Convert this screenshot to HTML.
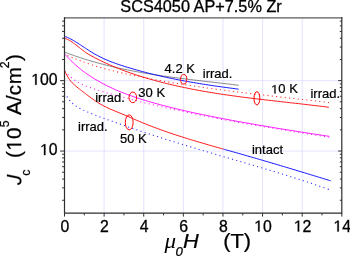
<!DOCTYPE html>
<html><head><meta charset="utf-8"><title>SCS4050 AP+7.5% Zr</title>
<style>html,body{margin:0;padding:0;background:#fff;overflow:hidden}svg{display:block;will-change:transform}text{font-family:"Liberation Sans",sans-serif;fill:#000}</style>
</head><body>
<svg width="350" height="256" viewBox="0 0 350 256">
<rect x="0" y="0" width="350" height="256" fill="#fff"/>
<g stroke="#dcdcff" stroke-width="0.8" fill="none">
<line x1="104.11" y1="17.95" x2="104.11" y2="213.10"/>
<line x1="143.73" y1="17.95" x2="143.73" y2="213.10"/>
<line x1="183.34" y1="17.95" x2="183.34" y2="213.10"/>
<line x1="222.96" y1="17.95" x2="222.96" y2="213.10"/>
<line x1="262.57" y1="17.95" x2="262.57" y2="213.10"/>
<line x1="302.19" y1="17.95" x2="302.19" y2="213.10"/>
<line x1="64.50" y1="80.65" x2="341.80" y2="80.65"/>
<line x1="64.50" y1="151.05" x2="341.80" y2="151.05"/>
</g>
<g fill="none" stroke-linejoin="round" stroke-opacity="0.92">
<path d="M64.90 52.27 C65.10 52.34 65.70 52.57 66.10 52.72 C66.50 52.87 66.90 53.02 67.30 53.17 C67.70 53.31 68.10 53.46 68.50 53.61 C68.90 53.75 69.30 53.90 69.70 54.04 C70.10 54.19 70.50 54.33 70.90 54.47 C71.30 54.62 71.70 54.76 72.10 54.90 C72.50 55.04 72.90 55.18 73.30 55.32 C73.70 55.46 74.10 55.60 74.50 55.74 C74.90 55.88 75.30 56.01 75.70 56.15 C76.10 56.29 76.50 56.42 76.90 56.56 C77.30 56.69 77.70 56.83 78.10 56.96 C78.50 57.09 78.90 57.23 79.30 57.36 C79.70 57.49 80.10 57.62 80.50 57.75 C80.90 57.88 81.30 58.01 81.70 58.14 C82.10 58.27 82.50 58.40 82.90 58.52 C83.30 58.65 83.70 58.78 84.10 58.90 C84.50 59.03 84.60 59.06 85.30 59.28 C86.00 59.49 87.30 59.89 88.30 60.19 C89.30 60.49 90.30 60.79 91.30 61.08 C92.30 61.38 93.30 61.66 94.30 61.95 C95.30 62.23 96.30 62.51 97.30 62.79 C98.30 63.06 99.30 63.33 100.30 63.60 C101.30 63.86 102.30 64.13 103.30 64.39 C104.30 64.65 105.30 64.90 106.30 65.15 C107.30 65.40 108.30 65.65 109.30 65.89 C110.30 66.14 111.30 66.37 112.30 66.61 C113.30 66.85 114.30 67.08 115.30 67.31 C116.30 67.54 117.30 67.76 118.30 67.98 C119.30 68.21 120.30 68.42 121.30 68.64 C122.30 68.85 123.30 69.07 124.30 69.27 C125.30 69.48 126.30 69.69 127.30 69.89 C128.30 70.09 129.30 70.29 130.30 70.49 C131.30 70.68 132.30 70.88 133.30 71.07 C134.30 71.26 135.30 71.45 136.30 71.63 C137.30 71.82 138.30 72.00 139.30 72.18 C140.30 72.36 141.30 72.53 142.30 72.71 C143.30 72.88 144.30 73.05 145.30 73.22 C146.30 73.39 147.30 73.56 148.30 73.72 C149.30 73.89 150.30 74.05 151.30 74.21 C152.30 74.37 153.30 74.53 154.30 74.68 C155.30 74.84 156.30 74.99 157.30 75.14 C158.30 75.29 159.30 75.44 160.30 75.59 C161.30 75.74 162.30 75.89 163.30 76.03 C164.30 76.17 165.30 76.32 166.30 76.46 C167.30 76.60 168.30 76.74 169.30 76.87 C170.30 77.01 171.30 77.15 172.30 77.28 C173.30 77.42 174.30 77.55 175.30 77.68 C176.30 77.81 177.30 77.94 178.30 78.07 C179.30 78.20 180.30 78.33 181.30 78.45 C182.30 78.58 183.30 78.71 184.30 78.83 C185.30 78.96 186.30 79.08 187.30 79.20 C188.30 79.33 189.30 79.45 190.30 79.57 C191.30 79.69 192.30 79.81 193.30 79.93 C194.30 80.05 195.30 80.17 196.30 80.29 C197.30 80.41 198.30 80.52 199.30 80.64 C200.30 80.76 201.30 80.88 202.30 80.99 C203.30 81.11 204.30 81.22 205.30 81.34 C206.30 81.46 207.30 81.57 208.30 81.69 C209.30 81.80 210.30 81.92 211.30 82.04 C212.30 82.15 213.30 82.27 214.30 82.38 C215.30 82.50 216.30 82.61 217.30 82.73 C218.30 82.85 219.30 82.96 220.30 83.08 C221.30 83.20 222.30 83.31 223.30 83.43 C224.30 83.55 225.30 83.67 226.30 83.78 C227.30 83.90 228.30 84.02 229.30 84.14 C230.30 84.26 231.30 84.38 232.30 84.50 C233.30 84.62 234.30 84.74 235.30 84.87 C236.30 84.99 237.75 85.17 238.30 85.24 C238.85 85.31 238.55 85.27 238.60 85.27" stroke="#484848" stroke-width="0.7"/>
<path d="M329.00 102.58 C328.88 102.57 328.92 102.57 328.30 102.50 C327.68 102.43 326.30 102.26 325.30 102.15 C324.30 102.03 323.30 101.91 322.30 101.79 C321.30 101.68 320.30 101.56 319.30 101.45 C318.30 101.33 317.30 101.21 316.30 101.10 C315.30 100.98 314.30 100.87 313.30 100.75 C312.30 100.64 311.30 100.52 310.30 100.41 C309.30 100.29 308.30 100.18 307.30 100.07 C306.30 99.95 305.30 99.84 304.30 99.72 C303.30 99.61 302.30 99.50 301.30 99.38 C300.30 99.27 299.30 99.15 298.30 99.04 C297.30 98.93 296.30 98.81 295.30 98.70 C294.30 98.59 293.30 98.47 292.30 98.36 C291.30 98.25 290.30 98.13 289.30 98.02 C288.30 97.91 287.30 97.79 286.30 97.68 C285.30 97.56 284.30 97.45 283.30 97.34 C282.30 97.22 281.30 97.11 280.30 96.99 C279.30 96.88 278.30 96.77 277.30 96.65 C276.30 96.54 275.30 96.42 274.30 96.31 C273.30 96.19 272.30 96.08 271.30 95.96 C270.30 95.85 269.30 95.73 268.30 95.62 C267.30 95.50 266.30 95.39 265.30 95.27 C264.30 95.15 263.30 95.04 262.30 94.92 C261.30 94.80 260.30 94.69 259.30 94.57 C258.30 94.45 257.30 94.33 256.30 94.21 C255.30 94.10 254.30 93.98 253.30 93.86 C252.30 93.74 251.30 93.62 250.30 93.50 C249.30 93.38 248.30 93.26 247.30 93.14 C246.30 93.02 245.30 92.89 244.30 92.77 C243.30 92.65 242.30 92.53 241.30 92.41 C240.30 92.28 239.30 92.16 238.30 92.03 C237.30 91.91 236.30 91.79 235.30 91.66 C234.30 91.53 233.30 91.41 232.30 91.28 C231.30 91.16 230.30 91.03 229.30 90.90 C228.30 90.77 227.30 90.64 226.30 90.51 C225.30 90.38 224.30 90.25 223.30 90.12 C222.30 89.99 221.30 89.86 220.30 89.73 C219.30 89.60 218.30 89.46 217.30 89.33 C216.30 89.19 215.30 89.06 214.30 88.92 C213.30 88.79 212.30 88.65 211.30 88.51 C210.30 88.38 209.30 88.24 208.30 88.10 C207.30 87.96 206.30 87.82 205.30 87.68 C204.30 87.54 203.30 87.40 202.30 87.25 C201.30 87.11 200.30 86.97 199.30 86.82 C198.30 86.68 197.30 86.53 196.30 86.39 C195.30 86.24 194.30 86.09 193.30 85.94 C192.30 85.79 191.30 85.64 190.30 85.49 C189.30 85.34 188.30 85.19 187.30 85.03 C186.30 84.88 185.30 84.73 184.30 84.57 C183.30 84.41 182.30 84.26 181.30 84.10 C180.30 83.94 179.30 83.78 178.30 83.62 C177.30 83.46 176.30 83.30 175.30 83.14 C174.30 82.97 173.30 82.81 172.30 82.64 C171.30 82.48 170.30 82.31 169.30 82.14 C168.30 81.98 167.30 81.81 166.30 81.64 C165.30 81.46 164.30 81.29 163.30 81.12 C162.30 80.95 161.30 80.77 160.30 80.59 C159.30 80.42 158.30 80.24 157.30 80.06 C156.30 79.88 155.30 79.70 154.30 79.52 C153.30 79.34 152.30 79.15 151.30 78.97 C150.30 78.78 149.30 78.60 148.30 78.41 C147.30 78.22 146.30 78.03 145.30 77.84 C144.30 77.65 143.30 77.45 142.30 77.26 C141.30 77.06 140.30 76.87 139.30 76.67 C138.30 76.47 137.30 76.27 136.30 76.07 C135.30 75.87 134.30 75.67 133.30 75.46 C132.30 75.25 131.30 75.05 130.30 74.84 C129.30 74.62 128.30 74.41 127.30 74.20 C126.30 73.98 125.30 73.76 124.30 73.54 C123.30 73.32 122.30 73.09 121.30 72.86 C120.30 72.63 119.30 72.40 118.30 72.16 C117.30 71.93 116.30 71.69 115.30 71.44 C114.30 71.20 113.30 70.95 112.30 70.70 C111.30 70.45 110.30 70.19 109.30 69.93 C108.30 69.67 107.30 69.40 106.30 69.13 C105.30 68.86 104.30 68.58 103.30 68.30 C102.30 68.02 101.30 67.73 100.30 67.44 C99.30 67.15 98.30 66.85 97.30 66.55 C96.30 66.25 95.30 65.94 94.30 65.62 C93.30 65.31 92.30 64.98 91.30 64.66 C90.30 64.33 89.30 63.99 88.30 63.65 C87.30 63.31 86.00 62.85 85.30 62.61 C84.60 62.36 84.50 62.32 84.10 62.18 C83.70 62.04 83.30 61.89 82.90 61.74 C82.50 61.60 82.10 61.45 81.70 61.30 C81.30 61.15 80.90 61.00 80.50 60.85 C80.10 60.70 79.70 60.55 79.30 60.39 C78.90 60.24 78.50 60.09 78.10 59.93 C77.70 59.77 77.30 59.62 76.90 59.46 C76.50 59.30 76.10 59.14 75.70 58.98 C75.30 58.82 74.90 58.65 74.50 58.49 C74.10 58.33 73.70 58.16 73.30 58.00 C72.90 57.83 72.50 57.66 72.10 57.49 C71.70 57.32 71.30 57.15 70.90 56.98 C70.50 56.81 70.10 56.64 69.70 56.46 C69.30 56.29 68.90 56.11 68.50 55.94 C68.10 55.76 67.70 55.58 67.30 55.40 C66.90 55.22 66.50 55.04 66.10 54.86 C65.70 54.68 65.10 54.40 64.90 54.31" stroke="#ff0000" stroke-width="1.05" stroke-dasharray="1.1 3.25" stroke-opacity="0.85"/>
<path d="M329.30 137.28 C329.13 137.25 328.97 137.23 328.30 137.12 C327.63 137.02 326.30 136.81 325.30 136.66 C324.30 136.51 323.30 136.35 322.30 136.20 C321.30 136.04 320.30 135.89 319.30 135.73 C318.30 135.58 317.30 135.42 316.30 135.27 C315.30 135.11 314.30 134.95 313.30 134.80 C312.30 134.64 311.30 134.49 310.30 134.33 C309.30 134.17 308.30 134.02 307.30 133.86 C306.30 133.70 305.30 133.55 304.30 133.39 C303.30 133.23 302.30 133.07 301.30 132.92 C300.30 132.76 299.30 132.60 298.30 132.44 C297.30 132.28 296.30 132.12 295.30 131.96 C294.30 131.81 293.30 131.65 292.30 131.49 C291.30 131.33 290.30 131.17 289.30 131.01 C288.30 130.84 287.30 130.68 286.30 130.52 C285.30 130.36 284.30 130.20 283.30 130.04 C282.30 129.87 281.30 129.71 280.30 129.55 C279.30 129.39 278.30 129.22 277.30 129.06 C276.30 128.89 275.30 128.73 274.30 128.56 C273.30 128.40 272.30 128.23 271.30 128.07 C270.30 127.90 269.30 127.74 268.30 127.57 C267.30 127.40 266.30 127.23 265.30 127.07 C264.30 126.90 263.30 126.73 262.30 126.56 C261.30 126.39 260.30 126.22 259.30 126.05 C258.30 125.88 257.30 125.71 256.30 125.54 C255.30 125.37 254.30 125.19 253.30 125.02 C252.30 124.85 251.30 124.67 250.30 124.50 C249.30 124.33 248.30 124.15 247.30 123.98 C246.30 123.80 245.30 123.62 244.30 123.45 C243.30 123.27 242.30 123.09 241.30 122.91 C240.30 122.74 239.30 122.56 238.30 122.38 C237.30 122.20 236.30 122.02 235.30 121.84 C234.30 121.66 233.30 121.47 232.30 121.29 C231.30 121.11 230.30 120.92 229.30 120.74 C228.30 120.56 227.30 120.37 226.30 120.19 C225.30 120.00 224.30 119.81 223.30 119.62 C222.30 119.44 221.30 119.25 220.30 119.06 C219.30 118.87 218.30 118.68 217.30 118.49 C216.30 118.30 215.30 118.11 214.30 117.91 C213.30 117.72 212.30 117.53 211.30 117.33 C210.30 117.14 209.30 116.94 208.30 116.75 C207.30 116.55 206.30 116.35 205.30 116.15 C204.30 115.95 203.30 115.76 202.30 115.55 C201.30 115.35 200.30 115.15 199.30 114.95 C198.30 114.75 197.30 114.54 196.30 114.34 C195.30 114.14 194.30 113.93 193.30 113.72 C192.30 113.52 191.30 113.31 190.30 113.10 C189.30 112.89 188.30 112.68 187.30 112.47 C186.30 112.26 185.30 112.05 184.30 111.84 C183.30 111.62 182.30 111.41 181.30 111.19 C180.30 110.98 179.30 110.76 178.30 110.54 C177.30 110.33 176.30 110.11 175.30 109.89 C174.30 109.67 173.30 109.45 172.30 109.23 C171.30 109.00 170.30 108.78 169.30 108.56 C168.30 108.33 167.30 108.10 166.30 107.88 C165.30 107.65 164.30 107.42 163.30 107.19 C162.30 106.96 161.30 106.73 160.30 106.50 C159.30 106.27 158.30 106.03 157.30 105.80 C156.30 105.56 155.30 105.33 154.30 105.09 C153.30 104.85 152.30 104.62 151.30 104.38 C150.30 104.14 149.30 103.89 148.30 103.65 C147.30 103.41 146.30 103.16 145.30 102.92 C144.30 102.67 143.30 102.43 142.30 102.18 C141.30 101.93 140.30 101.68 139.30 101.43 C138.30 101.18 137.30 100.93 136.30 100.67 C135.30 100.42 134.30 100.16 133.30 99.90 C132.30 99.65 131.30 99.39 130.30 99.13 C129.30 98.87 128.30 98.61 127.30 98.35 C126.30 98.08 125.30 97.82 124.30 97.55 C123.30 97.29 122.30 97.02 121.30 96.75 C120.30 96.48 119.30 96.21 118.30 95.94 C117.30 95.67 116.30 95.39 115.30 95.12 C114.30 94.84 113.30 94.56 112.30 94.28 C111.30 94.00 110.30 93.72 109.30 93.43 C108.30 93.15 107.30 92.86 106.30 92.57 C105.30 92.28 104.30 91.99 103.30 91.69 C102.30 91.40 101.30 91.10 100.30 90.79 C99.30 90.49 98.30 90.19 97.30 89.88 C96.30 89.57 95.30 89.25 94.30 88.94 C93.30 88.62 92.30 88.30 91.30 87.97 C90.30 87.64 89.30 87.31 88.30 86.95 C87.30 86.59 86.00 86.09 85.30 85.82 C84.60 85.55 84.50 85.49 84.10 85.32 C83.70 85.15 83.30 84.98 82.90 84.80 C82.50 84.62 82.10 84.44 81.70 84.25 C81.30 84.05 80.90 83.86 80.50 83.65 C80.10 83.45 79.70 83.24 79.30 83.02 C78.90 82.81 78.50 82.58 78.10 82.35 C77.70 82.12 77.30 81.88 76.90 81.63 C76.50 81.38 76.10 81.13 75.70 80.86 C75.30 80.60 74.90 80.33 74.50 80.04 C74.10 79.76 73.70 79.47 73.30 79.17 C72.90 78.87 72.50 78.55 72.10 78.23 C71.70 77.91 71.30 77.58 70.90 77.23 C70.50 76.89 70.10 76.54 69.70 76.17 C69.30 75.80 68.90 75.43 68.50 75.03 C68.10 74.64 67.70 74.24 67.30 73.83 C66.90 73.41 66.50 72.99 66.10 72.55 C65.70 72.10 65.10 71.41 64.90 71.18" stroke="#ff00ff" stroke-width="1.05" stroke-dasharray="1.1 3.25" stroke-opacity="0.85"/>
<path d="M328.50 189.25 C328.47 189.24 328.83 189.37 328.30 189.18 C327.77 188.99 326.30 188.48 325.30 188.13 C324.30 187.78 323.30 187.43 322.30 187.09 C321.30 186.74 320.30 186.40 319.30 186.06 C318.30 185.72 317.30 185.38 316.30 185.04 C315.30 184.70 314.30 184.36 313.30 184.03 C312.30 183.69 311.30 183.36 310.30 183.02 C309.30 182.69 308.30 182.36 307.30 182.03 C306.30 181.70 305.30 181.37 304.30 181.05 C303.30 180.72 302.30 180.39 301.30 180.07 C300.30 179.75 299.30 179.42 298.30 179.10 C297.30 178.78 296.30 178.46 295.30 178.14 C294.30 177.82 293.30 177.50 292.30 177.19 C291.30 176.87 290.30 176.56 289.30 176.24 C288.30 175.93 287.30 175.61 286.30 175.30 C285.30 174.99 284.30 174.68 283.30 174.37 C282.30 174.06 281.30 173.75 280.30 173.44 C279.30 173.13 278.30 172.83 277.30 172.52 C276.30 172.21 275.30 171.91 274.30 171.60 C273.30 171.30 272.30 171.00 271.30 170.69 C270.30 170.39 269.30 170.09 268.30 169.79 C267.30 169.49 266.30 169.19 265.30 168.89 C264.30 168.59 263.30 168.29 262.30 167.99 C261.30 167.69 260.30 167.39 259.30 167.09 C258.30 166.80 257.30 166.50 256.30 166.20 C255.30 165.91 254.30 165.61 253.30 165.32 C252.30 165.02 251.30 164.73 250.30 164.43 C249.30 164.14 248.30 163.84 247.30 163.55 C246.30 163.26 245.30 162.96 244.30 162.67 C243.30 162.38 242.30 162.08 241.30 161.79 C240.30 161.50 239.30 161.21 238.30 160.91 C237.30 160.62 236.30 160.33 235.30 160.04 C234.30 159.75 233.30 159.46 232.30 159.16 C231.30 158.87 230.30 158.58 229.30 158.29 C228.30 158.00 227.30 157.71 226.30 157.42 C225.30 157.13 224.30 156.83 223.30 156.54 C222.30 156.25 221.30 155.96 220.30 155.67 C219.30 155.38 218.30 155.08 217.30 154.79 C216.30 154.50 215.30 154.21 214.30 153.92 C213.30 153.62 212.30 153.33 211.30 153.04 C210.30 152.75 209.30 152.45 208.30 152.16 C207.30 151.87 206.30 151.57 205.30 151.28 C204.30 150.98 203.30 150.69 202.30 150.39 C201.30 150.10 200.30 149.80 199.30 149.51 C198.30 149.21 197.30 148.91 196.30 148.62 C195.30 148.32 194.30 148.02 193.30 147.72 C192.30 147.43 191.30 147.13 190.30 146.83 C189.30 146.53 188.30 146.23 187.30 145.93 C186.30 145.62 185.30 145.32 184.30 145.02 C183.30 144.72 182.30 144.41 181.30 144.11 C180.30 143.81 179.30 143.50 178.30 143.20 C177.30 142.89 176.30 142.58 175.30 142.28 C174.30 141.97 173.30 141.66 172.30 141.35 C171.30 141.04 170.30 140.73 169.30 140.42 C168.30 140.11 167.30 139.79 166.30 139.48 C165.30 139.17 164.30 138.85 163.30 138.53 C162.30 138.22 161.30 137.90 160.30 137.58 C159.30 137.26 158.30 136.94 157.30 136.62 C156.30 136.30 155.30 135.98 154.30 135.66 C153.30 135.33 152.30 135.01 151.30 134.68 C150.30 134.36 149.30 134.03 148.30 133.70 C147.30 133.37 146.30 133.04 145.30 132.71 C144.30 132.38 143.30 132.05 142.30 131.72 C141.30 131.38 140.30 131.05 139.30 130.71 C138.30 130.38 137.30 130.04 136.30 129.70 C135.30 129.37 134.30 129.03 133.30 128.69 C132.30 128.35 131.30 128.00 130.30 127.66 C129.30 127.32 128.30 126.97 127.30 126.63 C126.30 126.28 125.30 125.94 124.30 125.59 C123.30 125.24 122.30 124.89 121.30 124.54 C120.30 124.19 119.30 123.84 118.30 123.49 C117.30 123.14 116.30 122.79 115.30 122.43 C114.30 122.08 113.30 121.72 112.30 121.36 C111.30 121.01 110.30 120.65 109.30 120.29 C108.30 119.93 107.30 119.57 106.30 119.21 C105.30 118.85 104.30 118.49 103.30 118.12 C102.30 117.76 101.30 117.40 100.30 117.03 C99.30 116.66 98.30 116.29 97.30 115.92 C96.30 115.54 95.30 115.16 94.30 114.78 C93.30 114.39 92.30 114.00 91.30 113.59 C90.30 113.18 89.30 112.77 88.30 112.34 C87.30 111.92 86.00 111.34 85.30 111.02 C84.60 110.71 84.50 110.66 84.10 110.47 C83.70 110.29 83.30 110.10 82.90 109.91 C82.50 109.72 82.10 109.52 81.70 109.32 C81.30 109.13 80.90 108.93 80.50 108.72 C80.10 108.52 79.70 108.31 79.30 108.10 C78.90 107.88 78.50 107.66 78.10 107.43 C77.70 107.20 77.30 106.96 76.90 106.71 C76.50 106.46 76.10 106.20 75.70 105.92 C75.30 105.64 74.90 105.35 74.50 105.04 C74.10 104.73 73.70 104.41 73.30 104.06 C72.90 103.72 72.50 103.35 72.10 102.97 C71.70 102.58 71.30 102.18 70.90 101.75 C70.50 101.31 70.10 100.86 69.70 100.38 C69.30 99.90 68.90 99.39 68.50 98.85 C68.10 98.31 67.70 97.75 67.30 97.15 C66.90 96.55 66.50 95.92 66.10 95.26 C65.70 94.59 65.10 93.51 64.90 93.16" stroke="#0000ff" stroke-width="1.05" stroke-dasharray="1.1 3.25" stroke-opacity="0.85"/>
<path d="M64.90 54.18 C65.10 54.41 65.70 55.09 66.10 55.53 C66.50 55.97 66.90 56.41 67.30 56.84 C67.70 57.27 68.10 57.69 68.50 58.11 C68.90 58.53 69.30 58.94 69.70 59.35 C70.10 59.76 70.50 60.16 70.90 60.56 C71.30 60.95 71.70 61.34 72.10 61.73 C72.50 62.11 72.90 62.50 73.30 62.87 C73.70 63.25 74.10 63.62 74.50 63.98 C74.90 64.35 75.30 64.71 75.70 65.06 C76.10 65.42 76.50 65.77 76.90 66.12 C77.30 66.46 77.70 66.80 78.10 67.14 C78.50 67.48 78.90 67.81 79.30 68.14 C79.70 68.47 80.10 68.79 80.50 69.11 C80.90 69.43 81.30 69.75 81.70 70.06 C82.10 70.37 82.50 70.68 82.90 70.98 C83.30 71.28 83.70 71.58 84.10 71.88 C84.50 72.17 84.60 72.26 85.30 72.75 C86.00 73.25 87.30 74.17 88.30 74.85 C89.30 75.53 90.30 76.19 91.30 76.83 C92.30 77.48 93.30 78.10 94.30 78.71 C95.30 79.32 96.30 79.91 97.30 80.49 C98.30 81.07 99.30 81.64 100.30 82.19 C101.30 82.75 102.30 83.29 103.30 83.82 C104.30 84.35 105.30 84.86 106.30 85.37 C107.30 85.88 108.30 86.37 109.30 86.85 C110.30 87.34 111.30 87.81 112.30 88.27 C113.30 88.73 114.30 89.18 115.30 89.62 C116.30 90.06 117.30 90.49 118.30 90.92 C119.30 91.34 120.30 91.75 121.30 92.15 C122.30 92.56 123.30 92.95 124.30 93.34 C125.30 93.73 126.30 94.11 127.30 94.48 C128.30 94.85 129.30 95.21 130.30 95.57 C131.30 95.93 132.30 96.27 133.30 96.62 C134.30 96.96 135.30 97.30 136.30 97.63 C137.30 97.96 138.30 98.28 139.30 98.60 C140.30 98.92 141.30 99.24 142.30 99.55 C143.30 99.86 144.30 100.16 145.30 100.46 C146.30 100.77 147.30 101.06 148.30 101.36 C149.30 101.65 150.30 101.94 151.30 102.23 C152.30 102.51 153.30 102.80 154.30 103.08 C155.30 103.36 156.30 103.63 157.30 103.91 C158.30 104.18 159.30 104.45 160.30 104.72 C161.30 104.99 162.30 105.26 163.30 105.52 C164.30 105.78 165.30 106.04 166.30 106.30 C167.30 106.56 168.30 106.81 169.30 107.06 C170.30 107.32 171.30 107.57 172.30 107.81 C173.30 108.06 174.30 108.30 175.30 108.55 C176.30 108.79 177.30 109.03 178.30 109.26 C179.30 109.50 180.30 109.74 181.30 109.97 C182.30 110.20 183.30 110.43 184.30 110.66 C185.30 110.89 186.30 111.12 187.30 111.34 C188.30 111.57 189.30 111.79 190.30 112.01 C191.30 112.23 192.30 112.45 193.30 112.66 C194.30 112.88 195.30 113.10 196.30 113.31 C197.30 113.52 198.30 113.73 199.30 113.94 C200.30 114.15 201.30 114.36 202.30 114.57 C203.30 114.77 204.30 114.98 205.30 115.18 C206.30 115.39 207.30 115.59 208.30 115.79 C209.30 115.99 210.30 116.19 211.30 116.39 C212.30 116.59 213.30 116.78 214.30 116.98 C215.30 117.18 216.30 117.37 217.30 117.57 C218.30 117.76 219.30 117.95 220.30 118.14 C221.30 118.34 222.30 118.53 223.30 118.72 C224.30 118.91 225.30 119.09 226.30 119.28 C227.30 119.47 228.30 119.66 229.30 119.85 C230.30 120.03 231.30 120.22 232.30 120.40 C233.30 120.59 234.30 120.77 235.30 120.95 C236.30 121.14 237.30 121.32 238.30 121.50 C239.30 121.68 240.30 121.86 241.30 122.04 C242.30 122.22 243.30 122.40 244.30 122.58 C245.30 122.76 246.30 122.94 247.30 123.12 C248.30 123.29 249.30 123.47 250.30 123.65 C251.30 123.82 252.30 124.00 253.30 124.17 C254.30 124.34 255.30 124.52 256.30 124.69 C257.30 124.86 258.30 125.04 259.30 125.21 C260.30 125.38 261.30 125.55 262.30 125.72 C263.30 125.89 264.30 126.06 265.30 126.23 C266.30 126.40 267.30 126.56 268.30 126.73 C269.30 126.90 270.30 127.07 271.30 127.23 C272.30 127.40 273.30 127.57 274.30 127.73 C275.30 127.90 276.30 128.06 277.30 128.22 C278.30 128.39 279.30 128.55 280.30 128.71 C281.30 128.88 282.30 129.04 283.30 129.20 C284.30 129.36 285.30 129.52 286.30 129.69 C287.30 129.85 288.30 130.01 289.30 130.17 C290.30 130.33 291.30 130.49 292.30 130.64 C293.30 130.80 294.30 130.96 295.30 131.12 C296.30 131.28 297.30 131.43 298.30 131.59 C299.30 131.75 300.30 131.90 301.30 132.06 C302.30 132.22 303.30 132.37 304.30 132.53 C305.30 132.68 306.30 132.84 307.30 132.99 C308.30 133.14 309.30 133.30 310.30 133.45 C311.30 133.61 312.30 133.76 313.30 133.91 C314.30 134.06 315.30 134.22 316.30 134.37 C317.30 134.52 318.30 134.67 319.30 134.82 C320.30 134.97 321.30 135.13 322.30 135.28 C323.30 135.43 324.30 135.58 325.30 135.73 C326.30 135.88 327.63 136.08 328.30 136.18 C328.97 136.28 329.13 136.30 329.30 136.33" stroke="#ff00ff" stroke-width="0.98"/>
<path d="M223.30 149.09 C223.80 149.23 225.30 149.65 226.30 149.93 C227.30 150.21 228.30 150.49 229.30 150.78 C230.30 151.06 231.30 151.34 232.30 151.62 C233.30 151.90 234.30 152.18 235.30 152.46 C236.30 152.75 237.30 153.03 238.30 153.31 C239.30 153.60 240.30 153.88 241.30 154.16 C242.30 154.45 243.30 154.73 244.30 155.02 C245.30 155.30 246.30 155.59 247.30 155.88 C248.30 156.16 249.30 156.45 250.30 156.74 C251.30 157.03 252.30 157.31 253.30 157.60 C254.30 157.89 255.30 158.18 256.30 158.47 C257.30 158.76 258.30 159.05 259.30 159.35 C260.30 159.64 261.30 159.93 262.30 160.22 C263.30 160.51 264.30 160.81 265.30 161.10 C266.30 161.39 267.30 161.69 268.30 161.98 C269.30 162.28 270.30 162.57 271.30 162.87 C272.30 163.16 273.30 163.46 274.30 163.75 C275.30 164.05 276.30 164.35 277.30 164.64 C278.30 164.94 279.30 165.24 280.30 165.54 C281.30 165.83 282.30 166.13 283.30 166.43 C284.30 166.73 285.30 167.03 286.30 167.33 C287.30 167.63 288.30 167.93 289.30 168.23 C290.30 168.53 291.30 168.83 292.30 169.13 C293.30 169.43 294.30 169.73 295.30 170.04 C296.30 170.34 297.30 170.64 298.30 170.94 C299.30 171.25 300.30 171.55 301.30 171.85 C302.30 172.15 303.30 172.46 304.30 172.76 C305.30 173.06 306.30 173.37 307.30 173.67 C308.30 173.98 309.30 174.28 310.30 174.59 C311.30 174.89 312.30 175.20 313.30 175.50 C314.30 175.81 315.30 176.11 316.30 176.42 C317.30 176.72 318.30 177.03 319.30 177.34 C320.30 177.64 321.30 177.95 322.30 178.25 C323.30 178.56 324.30 178.87 325.30 179.17 C326.30 179.48 327.40 179.82 328.30 180.10 C329.20 180.37 330.30 180.71 330.70 180.83" stroke="#0000ff" stroke-width="0.98"/>
<path d="M64.90 71.30 C65.10 71.70 65.70 72.91 66.10 73.68 C66.50 74.46 66.90 75.23 67.30 75.96 C67.70 76.69 68.10 77.40 68.50 78.05 C68.90 78.70 69.30 79.31 69.70 79.87 C70.10 80.44 70.50 80.94 70.90 81.42 C71.30 81.90 71.70 82.34 72.10 82.75 C72.50 83.17 72.90 83.55 73.30 83.92 C73.70 84.30 74.10 84.64 74.50 84.99 C74.90 85.34 75.30 85.67 75.70 86.01 C76.10 86.35 76.50 86.68 76.90 87.01 C77.30 87.33 77.70 87.66 78.10 87.98 C78.50 88.30 78.90 88.62 79.30 88.94 C79.70 89.26 80.10 89.57 80.50 89.88 C80.90 90.19 81.30 90.50 81.70 90.81 C82.10 91.12 82.50 91.43 82.90 91.73 C83.30 92.04 83.70 92.34 84.10 92.65 C84.50 92.95 84.60 93.03 85.30 93.56 C86.00 94.09 87.30 95.08 88.30 95.83 C89.30 96.57 90.30 97.32 91.30 98.04 C92.30 98.77 93.30 99.48 94.30 100.17 C95.30 100.86 96.30 101.54 97.30 102.18 C98.30 102.83 99.30 103.45 100.30 104.04 C101.30 104.62 102.30 105.18 103.30 105.71 C104.30 106.24 105.30 106.74 106.30 107.23 C107.30 107.72 108.30 108.18 109.30 108.63 C110.30 109.08 111.30 109.51 112.30 109.94 C113.30 110.36 114.30 110.77 115.30 111.19 C116.30 111.60 117.30 112.00 118.30 112.41 C119.30 112.81 120.30 113.22 121.30 113.63 C122.30 114.05 123.30 114.46 124.30 114.89 C125.30 115.32 126.30 115.76 127.30 116.19 C128.30 116.63 129.30 117.07 130.30 117.51 C131.30 117.95 132.30 118.40 133.30 118.84 C134.30 119.27 135.30 119.71 136.30 120.14 C137.30 120.56 138.30 120.99 139.30 121.41 C140.30 121.83 141.30 122.24 142.30 122.65 C143.30 123.06 144.30 123.46 145.30 123.87 C146.30 124.27 147.30 124.66 148.30 125.06 C149.30 125.45 150.30 125.84 151.30 126.22 C152.30 126.60 153.30 126.98 154.30 127.36 C155.30 127.74 156.30 128.11 157.30 128.48 C158.30 128.85 159.30 129.21 160.30 129.57 C161.30 129.93 162.30 130.29 163.30 130.65 C164.30 131.00 165.30 131.35 166.30 131.70 C167.30 132.05 168.30 132.39 169.30 132.73 C170.30 133.07 171.30 133.41 172.30 133.75 C173.30 134.08 174.30 134.42 175.30 134.75 C176.30 135.07 177.30 135.40 178.30 135.73 C179.30 136.05 180.30 136.37 181.30 136.69 C182.30 137.01 183.30 137.33 184.30 137.64 C185.30 137.96 186.30 138.27 187.30 138.58 C188.30 138.89 189.30 139.20 190.30 139.50 C191.30 139.81 192.30 140.11 193.30 140.41 C194.30 140.72 195.30 141.02 196.30 141.31 C197.30 141.61 198.30 141.91 199.30 142.21 C200.30 142.50 201.30 142.79 202.30 143.09 C203.30 143.38 204.30 143.67 205.30 143.96 C206.30 144.25 207.30 144.54 208.30 144.83 C209.30 145.12 210.30 145.40 211.30 145.69 C212.30 145.97 213.30 146.26 214.30 146.54 C215.30 146.83 216.30 147.11 217.30 147.39 C218.30 147.68 219.30 147.96 220.30 148.24 C221.30 148.52 222.80 148.95 223.30 149.09" stroke="#ff0000" stroke-width="0.98"/>
<path d="M64.90 38.44 C65.10 38.50 65.70 38.67 66.10 38.81 C66.50 38.95 66.90 39.11 67.30 39.29 C67.70 39.47 68.10 39.66 68.50 39.87 C68.90 40.07 69.30 40.29 69.70 40.53 C70.10 40.76 70.50 41.01 70.90 41.26 C71.30 41.52 71.70 41.78 72.10 42.06 C72.50 42.33 72.90 42.61 73.30 42.90 C73.70 43.19 74.10 43.49 74.50 43.79 C74.90 44.09 75.30 44.40 75.70 44.71 C76.10 45.02 76.50 45.33 76.90 45.65 C77.30 45.97 77.70 46.28 78.10 46.60 C78.50 46.92 78.90 47.24 79.30 47.56 C79.70 47.88 80.10 48.20 80.50 48.52 C80.90 48.84 81.30 49.15 81.70 49.46 C82.10 49.78 82.50 50.08 82.90 50.39 C83.30 50.69 83.70 50.99 84.10 51.28 C84.50 51.57 84.60 51.67 85.30 52.14 C86.00 52.61 87.30 53.49 88.30 54.11 C89.30 54.73 90.30 55.31 91.30 55.88 C92.30 56.44 93.30 56.98 94.30 57.50 C95.30 58.03 96.30 58.54 97.30 59.04 C98.30 59.55 99.30 60.04 100.30 60.53 C101.30 61.02 102.30 61.50 103.30 61.97 C104.30 62.44 105.30 62.90 106.30 63.36 C107.30 63.81 108.30 64.26 109.30 64.70 C110.30 65.14 111.30 65.57 112.30 66.00 C113.30 66.42 114.30 66.84 115.30 67.25 C116.30 67.66 117.30 68.06 118.30 68.46 C119.30 68.86 120.30 69.25 121.30 69.63 C122.30 70.02 123.30 70.40 124.30 70.77 C125.30 71.14 126.30 71.50 127.30 71.86 C128.30 72.22 129.30 72.58 130.30 72.92 C131.30 73.27 132.30 73.61 133.30 73.95 C134.30 74.29 135.30 74.62 136.30 74.95 C137.30 75.27 138.30 75.59 139.30 75.91 C140.30 76.23 141.30 76.54 142.30 76.85 C143.30 77.15 144.30 77.46 145.30 77.76 C146.30 78.05 147.30 78.35 148.30 78.64 C149.30 78.93 150.30 79.22 151.30 79.50 C152.30 79.78 153.30 80.06 154.30 80.33 C155.30 80.61 156.30 80.88 157.30 81.15 C158.30 81.42 159.30 81.68 160.30 81.94 C161.30 82.20 162.30 82.46 163.30 82.71 C164.30 82.96 165.30 83.21 166.30 83.46 C167.30 83.71 168.30 83.95 169.30 84.19 C170.30 84.43 171.30 84.67 172.30 84.90 C173.30 85.13 174.30 85.36 175.30 85.59 C176.30 85.82 177.30 86.04 178.30 86.26 C179.30 86.48 180.30 86.70 181.30 86.92 C182.30 87.13 183.30 87.34 184.30 87.55 C185.30 87.76 186.30 87.97 187.30 88.17 C188.30 88.37 189.30 88.58 190.30 88.77 C191.30 88.97 192.30 89.17 193.30 89.36 C194.30 89.55 195.30 89.74 196.30 89.93 C197.30 90.12 198.30 90.30 199.30 90.48 C200.30 90.67 201.30 90.85 202.30 91.02 C203.30 91.20 204.30 91.38 205.30 91.55 C206.30 91.72 207.30 91.89 208.30 92.06 C209.30 92.23 210.30 92.40 211.30 92.56 C212.30 92.73 213.30 92.89 214.30 93.05 C215.30 93.21 216.30 93.37 217.30 93.52 C218.30 93.68 219.30 93.83 220.30 93.99 C221.30 94.14 222.30 94.29 223.30 94.44 C224.30 94.59 225.30 94.73 226.30 94.88 C227.30 95.02 228.30 95.17 229.30 95.31 C230.30 95.45 231.30 95.59 232.30 95.73 C233.30 95.87 234.30 96.01 235.30 96.14 C236.30 96.28 237.30 96.41 238.30 96.55 C239.30 96.68 240.30 96.81 241.30 96.94 C242.30 97.07 243.30 97.20 244.30 97.33 C245.30 97.46 246.30 97.59 247.30 97.71 C248.30 97.84 249.30 97.96 250.30 98.09 C251.30 98.21 252.30 98.34 253.30 98.46 C254.30 98.58 255.30 98.70 256.30 98.82 C257.30 98.94 258.30 99.06 259.30 99.18 C260.30 99.30 261.30 99.42 262.30 99.53 C263.30 99.65 264.30 99.77 265.30 99.88 C266.30 100.00 267.30 100.11 268.30 100.23 C269.30 100.34 270.30 100.46 271.30 100.57 C272.30 100.69 273.30 100.80 274.30 100.91 C275.30 101.03 276.30 101.14 277.30 101.25 C278.30 101.37 279.30 101.48 280.30 101.59 C281.30 101.70 282.30 101.81 283.30 101.93 C284.30 102.04 285.30 102.15 286.30 102.26 C287.30 102.38 288.30 102.49 289.30 102.60 C290.30 102.71 291.30 102.82 292.30 102.94 C293.30 103.05 294.30 103.16 295.30 103.28 C296.30 103.39 297.30 103.50 298.30 103.62 C299.30 103.73 300.30 103.84 301.30 103.96 C302.30 104.07 303.30 104.19 304.30 104.30 C305.30 104.42 306.30 104.53 307.30 104.65 C308.30 104.77 309.30 104.88 310.30 105.00 C311.30 105.12 312.30 105.24 313.30 105.36 C314.30 105.48 315.30 105.60 316.30 105.72 C317.30 105.84 318.30 105.96 319.30 106.08 C320.30 106.21 321.30 106.33 322.30 106.45 C323.30 106.58 324.30 106.71 325.30 106.83 C326.30 106.96 327.68 107.14 328.30 107.22 C328.92 107.30 328.88 107.29 329.00 107.31" stroke="#ff0000" stroke-width="0.98"/>
<path d="M64.90 36.53 C65.10 36.59 65.70 36.79 66.10 36.94 C66.50 37.08 66.90 37.24 67.30 37.40 C67.70 37.57 68.10 37.74 68.50 37.92 C68.90 38.10 69.30 38.29 69.70 38.49 C70.10 38.68 70.50 38.88 70.90 39.09 C71.30 39.30 71.70 39.52 72.10 39.74 C72.50 39.96 72.90 40.19 73.30 40.42 C73.70 40.65 74.10 40.89 74.50 41.13 C74.90 41.37 75.30 41.61 75.70 41.86 C76.10 42.11 76.50 42.36 76.90 42.61 C77.30 42.87 77.70 43.12 78.10 43.38 C78.50 43.64 78.90 43.90 79.30 44.16 C79.70 44.42 80.10 44.68 80.50 44.94 C80.90 45.21 81.30 45.47 81.70 45.74 C82.10 46.00 82.50 46.26 82.90 46.53 C83.30 46.79 83.70 47.06 84.10 47.32 C84.50 47.59 84.60 47.65 85.30 48.11 C86.00 48.57 87.30 49.43 88.30 50.07 C89.30 50.71 90.30 51.35 91.30 51.97 C92.30 52.58 93.30 53.19 94.30 53.77 C95.30 54.35 96.30 54.92 97.30 55.46 C98.30 56.00 99.30 56.52 100.30 57.02 C101.30 57.52 102.30 58.00 103.30 58.46 C104.30 58.93 105.30 59.38 106.30 59.81 C107.30 60.24 108.30 60.66 109.30 61.06 C110.30 61.46 111.30 61.85 112.30 62.23 C113.30 62.61 114.30 62.97 115.30 63.33 C116.30 63.69 117.30 64.03 118.30 64.37 C119.30 64.71 120.30 65.04 121.30 65.37 C122.30 65.69 123.30 66.01 124.30 66.32 C125.30 66.64 126.30 66.94 127.30 67.25 C128.30 67.55 129.30 67.86 130.30 68.15 C131.30 68.45 132.30 68.74 133.30 69.03 C134.30 69.32 135.30 69.61 136.30 69.89 C137.30 70.17 138.30 70.45 139.30 70.73 C140.30 71.00 141.30 71.27 142.30 71.54 C143.30 71.81 144.30 72.07 145.30 72.33 C146.30 72.59 147.30 72.85 148.30 73.11 C149.30 73.36 150.30 73.61 151.30 73.86 C152.30 74.10 153.30 74.35 154.30 74.59 C155.30 74.83 156.30 75.07 157.30 75.30 C158.30 75.54 159.30 75.77 160.30 76.00 C161.30 76.22 162.30 76.45 163.30 76.67 C164.30 76.89 165.30 77.11 166.30 77.33 C167.30 77.54 168.30 77.76 169.30 77.97 C170.30 78.18 171.30 78.39 172.30 78.59 C173.30 78.80 174.30 79.00 175.30 79.20 C176.30 79.40 177.30 79.60 178.30 79.79 C179.30 79.99 180.30 80.18 181.30 80.37 C182.30 80.56 183.30 80.75 184.30 80.93 C185.30 81.12 186.30 81.30 187.30 81.48 C188.30 81.66 189.30 81.84 190.30 82.01 C191.30 82.19 192.30 82.36 193.30 82.53 C194.30 82.70 195.30 82.87 196.30 83.04 C197.30 83.21 198.30 83.37 199.30 83.54 C200.30 83.70 201.30 83.86 202.30 84.02 C203.30 84.18 204.30 84.34 205.30 84.49 C206.30 84.65 207.30 84.80 208.30 84.96 C209.30 85.11 210.30 85.26 211.30 85.41 C212.30 85.56 213.30 85.70 214.30 85.85 C215.30 86.00 216.30 86.14 217.30 86.28 C218.30 86.43 219.30 86.57 220.30 86.71 C221.30 86.85 222.30 86.99 223.30 87.13 C224.30 87.26 225.30 87.40 226.30 87.53 C227.30 87.67 228.30 87.80 229.30 87.94 C230.30 88.07 231.30 88.20 232.30 88.33 C233.30 88.46 234.30 88.59 235.30 88.72 C236.30 88.85 237.75 89.03 238.30 89.10 C238.85 89.17 238.55 89.14 238.60 89.14" stroke="#0000ff" stroke-width="0.98"/>
</g>
<g fill="none" stroke="#ff0000" stroke-width="1">
<ellipse cx="183.7" cy="79.3" rx="3.1" ry="4.75"/>
<ellipse cx="256.9" cy="98.3" rx="2.95" ry="6.6"/>
<ellipse cx="132.8" cy="97.4" rx="3.8" ry="5.3"/>
<ellipse cx="129.2" cy="122.4" rx="3.9" ry="7.5"/>
</g>
<path d="M64.50 17.95H341.80" fill="none" stroke="#5a5a5a" stroke-width="1.2" stroke-linecap="square"/>
<path d="M64.50 17.95V213.10H341.80V17.95" fill="none" stroke="#2e2e2e" stroke-width="1.2" stroke-linecap="square"/>
<g stroke="#2e2e2e" stroke-width="1" fill="none">
<line x1="64.50" y1="213.10" x2="64.50" y2="216.60"/>
<line x1="84.31" y1="213.10" x2="84.31" y2="215.40"/>
<line x1="104.11" y1="213.10" x2="104.11" y2="216.60"/>
<line x1="123.92" y1="213.10" x2="123.92" y2="215.40"/>
<line x1="143.73" y1="213.10" x2="143.73" y2="216.60"/>
<line x1="163.54" y1="213.10" x2="163.54" y2="215.40"/>
<line x1="183.34" y1="213.10" x2="183.34" y2="216.60"/>
<line x1="203.15" y1="213.10" x2="203.15" y2="215.40"/>
<line x1="222.96" y1="213.10" x2="222.96" y2="216.60"/>
<line x1="242.76" y1="213.10" x2="242.76" y2="215.40"/>
<line x1="262.57" y1="213.10" x2="262.57" y2="216.60"/>
<line x1="282.38" y1="213.10" x2="282.38" y2="215.40"/>
<line x1="302.19" y1="213.10" x2="302.19" y2="216.60"/>
<line x1="321.99" y1="213.10" x2="321.99" y2="215.40"/>
<line x1="341.80" y1="213.10" x2="341.80" y2="216.60"/>
<line x1="62.10" y1="200.26" x2="64.50" y2="200.26"/>
<line x1="339.80" y1="200.26" x2="341.80" y2="200.26"/>
<line x1="62.10" y1="187.86" x2="64.50" y2="187.86"/>
<line x1="339.80" y1="187.86" x2="341.80" y2="187.86"/>
<line x1="62.10" y1="179.06" x2="64.50" y2="179.06"/>
<line x1="339.80" y1="179.06" x2="341.80" y2="179.06"/>
<line x1="62.10" y1="172.24" x2="64.50" y2="172.24"/>
<line x1="339.80" y1="172.24" x2="341.80" y2="172.24"/>
<line x1="62.10" y1="166.67" x2="64.50" y2="166.67"/>
<line x1="339.80" y1="166.67" x2="341.80" y2="166.67"/>
<line x1="62.10" y1="161.96" x2="64.50" y2="161.96"/>
<line x1="339.80" y1="161.96" x2="341.80" y2="161.96"/>
<line x1="62.10" y1="157.87" x2="64.50" y2="157.87"/>
<line x1="339.80" y1="157.87" x2="341.80" y2="157.87"/>
<line x1="62.10" y1="154.27" x2="64.50" y2="154.27"/>
<line x1="339.80" y1="154.27" x2="341.80" y2="154.27"/>
<line x1="60.10" y1="151.05" x2="64.50" y2="151.05"/>
<line x1="338.20" y1="151.05" x2="341.80" y2="151.05"/>
<line x1="62.10" y1="129.86" x2="64.50" y2="129.86"/>
<line x1="339.80" y1="129.86" x2="341.80" y2="129.86"/>
<line x1="62.10" y1="117.46" x2="64.50" y2="117.46"/>
<line x1="339.80" y1="117.46" x2="341.80" y2="117.46"/>
<line x1="62.10" y1="108.66" x2="64.50" y2="108.66"/>
<line x1="339.80" y1="108.66" x2="341.80" y2="108.66"/>
<line x1="62.10" y1="101.84" x2="64.50" y2="101.84"/>
<line x1="339.80" y1="101.84" x2="341.80" y2="101.84"/>
<line x1="62.10" y1="96.27" x2="64.50" y2="96.27"/>
<line x1="339.80" y1="96.27" x2="341.80" y2="96.27"/>
<line x1="62.10" y1="91.56" x2="64.50" y2="91.56"/>
<line x1="339.80" y1="91.56" x2="341.80" y2="91.56"/>
<line x1="62.10" y1="87.47" x2="64.50" y2="87.47"/>
<line x1="339.80" y1="87.47" x2="341.80" y2="87.47"/>
<line x1="62.10" y1="83.87" x2="64.50" y2="83.87"/>
<line x1="339.80" y1="83.87" x2="341.80" y2="83.87"/>
<line x1="60.10" y1="80.65" x2="64.50" y2="80.65"/>
<line x1="338.20" y1="80.65" x2="341.80" y2="80.65"/>
<line x1="62.10" y1="59.46" x2="64.50" y2="59.46"/>
<line x1="339.80" y1="59.46" x2="341.80" y2="59.46"/>
<line x1="62.10" y1="47.06" x2="64.50" y2="47.06"/>
<line x1="339.80" y1="47.06" x2="341.80" y2="47.06"/>
<line x1="62.10" y1="38.26" x2="64.50" y2="38.26"/>
<line x1="339.80" y1="38.26" x2="341.80" y2="38.26"/>
<line x1="62.10" y1="31.44" x2="64.50" y2="31.44"/>
<line x1="339.80" y1="31.44" x2="341.80" y2="31.44"/>
<line x1="62.10" y1="25.87" x2="64.50" y2="25.87"/>
<line x1="339.80" y1="25.87" x2="341.80" y2="25.87"/>
<line x1="62.10" y1="21.16" x2="64.50" y2="21.16"/>
<line x1="339.80" y1="21.16" x2="341.80" y2="21.16"/>
</g>
<text x="60.51" y="231.50" font-size="15.80" stroke="#000" stroke-width="0.30">0</text>
<text x="100.12" y="231.50" font-size="15.80" stroke="#000" stroke-width="0.30">2</text>
<text x="139.73" y="231.50" font-size="15.80" stroke="#000" stroke-width="0.30">4</text>
<text x="179.35" y="231.50" font-size="15.80" stroke="#000" stroke-width="0.30">6</text>
<text x="218.96" y="231.50" font-size="15.80" stroke="#000" stroke-width="0.30">8</text>
<path transform="translate(254.18,231.50) scale(0.00771,-0.00771)" d="M515 0V1237L197 1010V1180L530 1409H696V0Z" fill="#000" stroke="#000" stroke-width="38.9" stroke-linejoin="round"/>
<text x="262.97" y="231.50" font-size="15.80" stroke="#000" stroke-width="0.30">0</text>
<path transform="translate(293.80,231.50) scale(0.00771,-0.00771)" d="M515 0V1237L197 1010V1180L530 1409H696V0Z" fill="#000" stroke="#000" stroke-width="38.9" stroke-linejoin="round"/>
<text x="302.59" y="231.50" font-size="15.80" stroke="#000" stroke-width="0.30">2</text>
<path transform="translate(333.41,231.50) scale(0.00771,-0.00771)" d="M515 0V1237L197 1010V1180L530 1409H696V0Z" fill="#000" stroke="#000" stroke-width="38.9" stroke-linejoin="round"/>
<text x="342.20" y="231.50" font-size="15.80" stroke="#000" stroke-width="0.30">4</text>
<path transform="translate(31.24,84.80) scale(0.00771,-0.00771)" d="M515 0V1237L197 1010V1180L530 1409H696V0Z" fill="#000" stroke="#000" stroke-width="38.9" stroke-linejoin="round"/>
<text x="40.03" y="84.80" font-size="15.80" stroke="#000" stroke-width="0.30">00</text>
<path transform="translate(40.03,155.10) scale(0.00771,-0.00771)" d="M515 0V1237L197 1010V1180L530 1409H696V0Z" fill="#000" stroke="#000" stroke-width="38.9" stroke-linejoin="round"/>
<text x="48.81" y="155.10" font-size="15.80" stroke="#000" stroke-width="0.30">0</text>
<text transform="translate(120.30,11.60) scale(1.0310,1)" font-size="15.80" stroke="#000" stroke-width="0.30">SCS4050 AP+7.5% Zr</text>
<text transform="translate(164.60,72.60) scale(1.0850,1)" font-size="12.00" stroke="#000" stroke-width="0.20">4.2 K</text>
<text transform="translate(202.80,77.70) scale(1.0850,1)" font-size="12.00" stroke="#000" stroke-width="0.20">irrad.</text>
<path transform="translate(271.10,93.40) scale(0.00636,-0.00586)" d="M515 0V1237L197 1010V1180L530 1409H696V0Z" fill="#000" stroke="#000" stroke-width="34.1" stroke-linejoin="round"/>
<text transform="translate(278.34,93.40) scale(1.0850,1)" font-size="12.00" stroke="#000" stroke-width="0.20">0 K</text>
<text transform="translate(310.40,97.50) scale(1.0850,1)" font-size="12.00" stroke="#000" stroke-width="0.20">irrad.</text>
<text transform="translate(138.35,97.40) scale(1.0850,1)" font-size="12.00" stroke="#000" stroke-width="0.20">30 K</text>
<text transform="translate(95.20,101.90) scale(1.0850,1)" font-size="12.00" stroke="#000" stroke-width="0.20">irrad.</text>
<text transform="translate(78.00,130.90) scale(1.0850,1)" font-size="12.00" stroke="#000" stroke-width="0.20">irrad.</text>
<text transform="translate(119.90,143.00) scale(1.0850,1)" font-size="12.00" stroke="#000" stroke-width="0.20">50 K</text>
<text transform="translate(251.90,153.90) scale(1.0850,1)" font-size="12.00" stroke="#000" stroke-width="0.20">intact</text>
<g transform="translate(21.2,184.9) rotate(-90)">
<path transform="translate(0.00,0.00) scale(0.01006,-0.01006)" d="M381 -20Q222 -20 121.5 73Q21 166 -5 343L163 376Q186 259 242 197Q298 135 398 135Q503 135 568 207.5Q633 280 663 440L850 1409H1040L847 423Q804 199 690 89.5Q576 -20 381 -20Z" fill="#000" stroke="#000" stroke-width="24.9" stroke-linejoin="round"/>
<text x="9.20" y="8.70" font-size="12.30" stroke="#000" stroke-width="0.25">c</text>
<text x="26.80" y="0.00" font-size="20.60" stroke="#000" stroke-width="0.25">(</text>
<path transform="translate(34.16,0.00) scale(0.01006,-0.01006)" d="M515 0V1237L197 1010V1180L530 1409H696V0Z" fill="#000" stroke="#000" stroke-width="24.9" stroke-linejoin="round"/>
<text x="45.81" y="0.00" font-size="20.60" stroke="#000" stroke-width="0.25">0</text>
<text x="57.67" y="-12.10" font-size="12.30" stroke="#000" stroke-width="0.25">5</text>
<text x="69.83" y="0.00" font-size="20.60" stroke="#000" stroke-width="0.25">A</text>
<text x="83.57" y="0.00" font-size="20.60" stroke="#000" stroke-width="0.25">/</text>
<text x="89.70" y="0.00" font-size="20.60" stroke="#000" stroke-width="0.25">c</text>
<text x="100.60" y="0.00" font-size="20.60" stroke="#000" stroke-width="0.25">m</text>
<text x="116.56" y="-12.10" font-size="12.30" stroke="#000" stroke-width="0.25">2</text>
<text x="124.00" y="0.00" font-size="20.60" stroke="#000" stroke-width="0.25">)</text>
</g>
<text transform="translate(164.6,248.1) scale(1.1,1)" style="font-family:'Liberation Serif',serif" font-style="italic" font-size="21">&#956;</text>
<text transform="translate(175.60,255.50) scale(1.0750,1)" font-size="12.30" font-style="italic" stroke="#000" stroke-width="0.25">0</text>
<text transform="translate(182.95,248.00) scale(1.0750,1)" font-size="20.30" font-style="italic" stroke="#000" stroke-width="0.25">H</text>
<text transform="translate(223.20,248.00) scale(1.0750,1)" font-size="20.30" stroke="#000" stroke-width="0.25">(T)</text>
</svg>
</body></html>
